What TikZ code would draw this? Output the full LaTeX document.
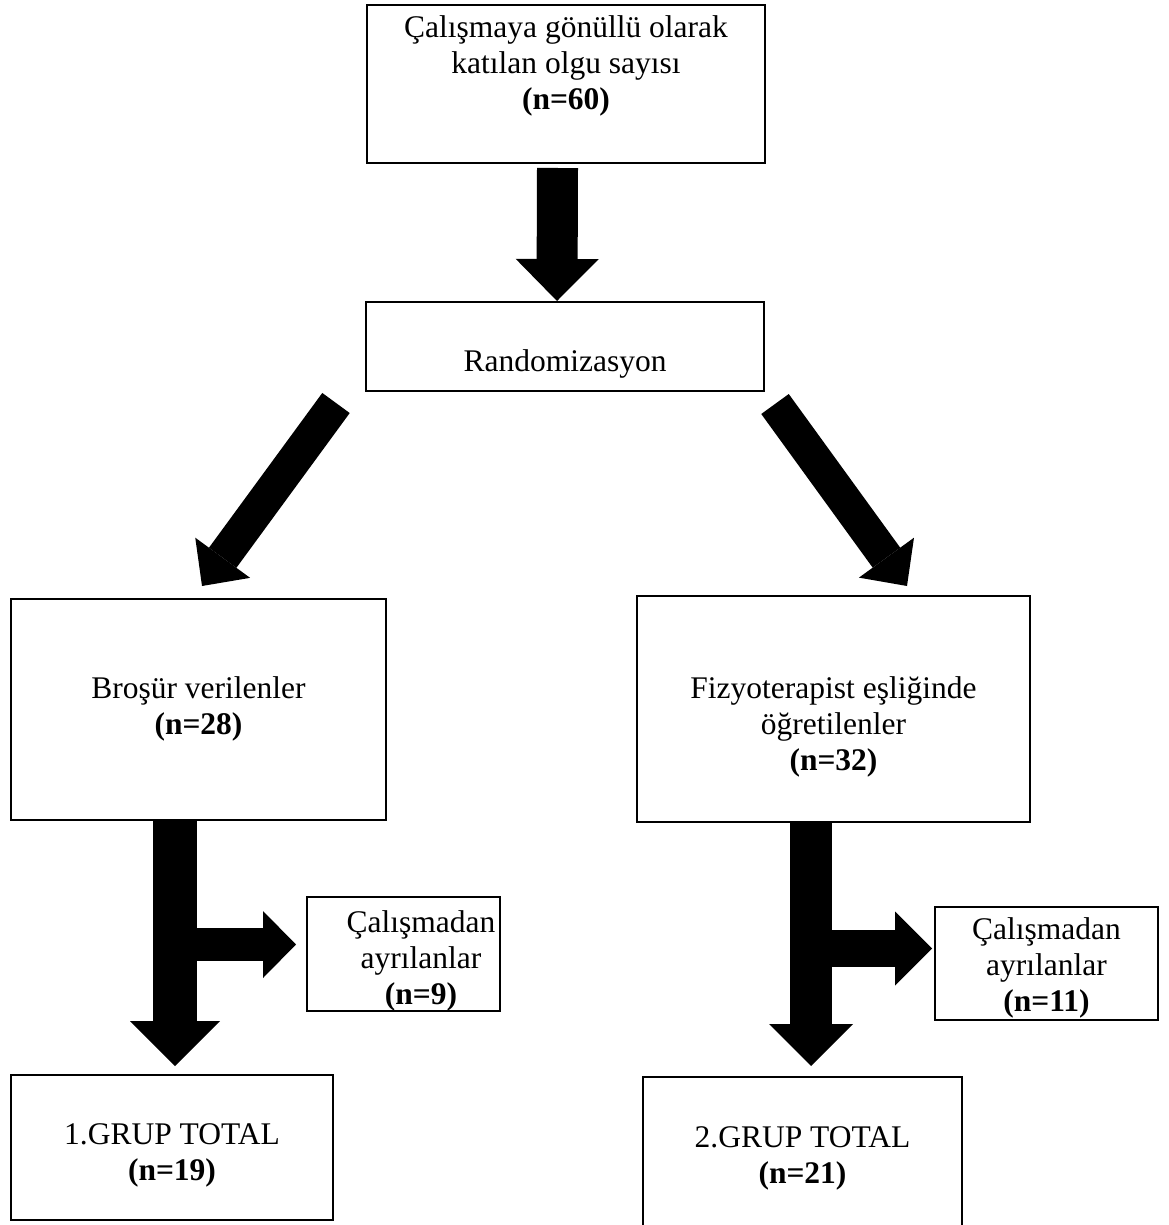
\documentclass[tikz,border=0pt]{standalone}
\usepackage{fontspec}
\setmainfont{Liberation Serif}
\usetikzlibrary{arrows.meta}
\begin{document}
\begin{tikzpicture}[x=0.5pt, y=-0.5pt, font=\fontsize{15.75pt}{18pt}\selectfont,
    box/.style = {draw, line width=1pt, align=center, inner sep=0pt},
    txt/.style = {align=center, inner sep=0pt},
    fat/.style args = {#1/#2/#3}{line width=#1, -{Triangle[length=#2, width=#3, line width=0pt]}}]
  \useasboundingbox (0,0) rectangle (1168,1225);

  \node[box, minimum width=199pt, minimum height=79pt] (olgu) at (566,84)
    {Çalışmaya gönüllü olarak\strut\\katılan olgu sayısı\strut\\\textbf{(n=60)}\strut\\\strut};
  \node[box, minimum width=199pt, minimum height=44.5pt] (rand) at (565,346.5)
    {\strut\\Randomizasyon\strut};
  \node[box, minimum width=187.5pt, minimum height=110.5pt] (grp1) at (198.5,709.5)
    {Broşür verilenler\strut\\\textbf{(n=28)}\strut};
  \node[box, minimum width=196.5pt, minimum height=113pt] (grp2) at (833.5,709)
    {\strut\\Fizyoterapist eşliğinde\strut\\öğretilenler\strut\\\textbf{(n=32)}\strut};
  \node[box, minimum width=96.5pt, minimum height=57pt] (out1) at (403.5,954) {};
  \node[txt] (out1t) at ([shift={(17.5,7)}]out1.center)
    {Çalışmadan\strut\\ayrılanlar\strut\\\textbf{(n=9)}\strut};
  \node[box, minimum width=111.5pt, minimum height=56.5pt] (out2) at (1046.5,963.5) {};
  \node[txt] (out2t) at ([shift={(0,5)}]out2.center)
    {Çalışmadan\strut\\ayrılanlar\strut\\\textbf{(n=11)}\strut};
  \node[box, minimum width=161pt, minimum height=72.5pt] (tot1) at (172,1147.5) {};
  \node[txt] (tot1t) at ([shift={(0,8)}]tot1.center)
    {1.GRUP TOTAL\strut\\\textbf{(n=19)}\strut};
  \node[box, minimum width=159.5pt, minimum height=81pt] (tot2) at (802.5,1158)
    {2.GRUP TOTAL\strut\\\textbf{(n=21)}\strut};

  % block arrows
  \draw[fat=20.5pt/21pt/41.5pt] ([shift={(-8.5,4)}]olgu.south) -- ([shift={(-8,0)}]rand.north);
  \draw[fat=17pt/17.5pt/34pt] ([shift={(-229,11)}]rand.south) -- ([shift={(3.5,-12)}]grp1.north);
  \draw[fat=17pt/17.5pt/34pt] ([shift={(210,12)}]rand.south) -- ([shift={(73.5,-9)}]grp2.north);

  \coordinate (j1) at ([shift={(-23.5,123.5)}]grp1.south);
  \coordinate (j2) at ([shift={(-22.5,125.5)}]grp2.south);
  \draw[fat=22pt/22.5pt/45pt, shorten >=4pt] (j1 |- grp1.south) -- (j1 |- tot1.north);
  \draw[fat=16.5pt/16.5pt/33.5pt, shorten >=5pt] (j1) -- (j1 -| out1.west);
  \draw[fat=21pt/21pt/42pt, shorten >=5pt] (j2 |- grp2.south) -- (j2 |- tot2.north);
  \draw[fat=18.5pt/18.5pt/37pt, shorten >=1pt] (j2) -- (j2 -| out2.west);
\end{tikzpicture}
\end{document}
